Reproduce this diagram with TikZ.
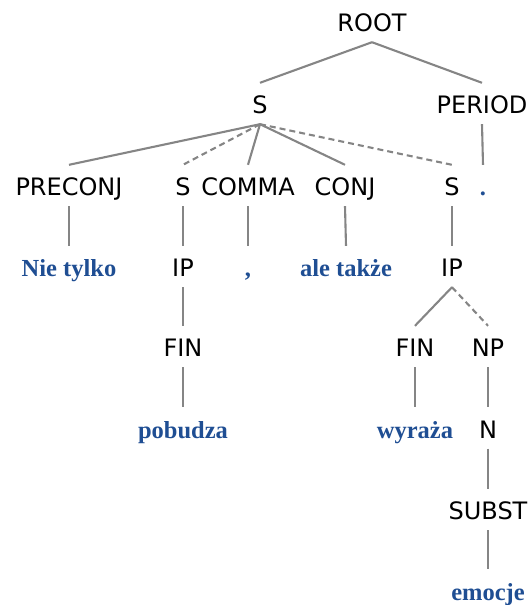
\documentclass[tikz,border=0pt]{standalone}
\usepackage{fontspec}
\setmainfont{DejaVu Sans}
\newfontfamily\wordfont{Liberation Serif}
\definecolor{wordblue}{HTML}{1F4E93}
\definecolor{edgegray}{HTML}{858585}
\begin{document}
\begin{tikzpicture}[x=1pt,y=-1pt,
  lab/.style={anchor=base, inner xsep=0pt, inner ysep=0pt, text height=30.5pt, text depth=10.5pt, font=\fontsize{24}{28}\selectfont},
  word/.style={lab, text=wordblue, font=\fontsize{24.5}{28}\selectfont\wordfont\bfseries},
  edge/.style={draw=edgegray, line width=2.1pt},
  dedge/.style={edge, dash pattern=on 6pt off 4pt}]
\useasboundingbox (0,0) rectangle (531,605);
% row 1
\node[lab] (root) at (372,31.5) {ROOT};
% row 2
\node[lab] (s1) at (260,113.5) {S};
\node[lab] (period) at (482,113.5) {PERIOD};
% row 3
\node[lab] (preconj) at (69,195.5) {PRECONJ};
\node[lab] (s2) at (183,195.5) {S};
\node[lab] (comma) at (248,195.5) {COMMA};
\node[lab] (conj) at (345,195.5) {CONJ};
\node[lab] (s3) at (452,195.5) {S};
\node[word] (dot) at (483,195.5) {.};
% row 4
\node[word] (nie) at (69,276.5) {Nie tylko};
\node[lab] (ip1) at (183,276.5) {IP};
\node[word] (cm) at (248,276.5) {,};
\node[word] (ale) at (346,276.5) {ale także};
\node[lab] (ip2) at (452,276.5) {IP};
% row 5
\node[lab] (fin1) at (183,356.5) {FIN};
\node[lab] (fin2) at (415,356.5) {FIN};
\node[lab] (np) at (488,356.5) {NP};
% row 6
\node[word] (pob) at (183,438) {pobudza};
\node[word] (wyr) at (415,438) {wyraża};
\node[lab] (n) at (488,438) {N};
% row 7
\node[lab] (subst) at (488,519.5) {SUBST};
% row 8
\node[word] (emo) at (488,600) {emocje};
% edges
\draw[edge] (root.south) -- (s1.north);
\draw[edge] (root.south) -- (period.north);
\draw[edge] (s1.south) -- (preconj.north);
\draw[dedge] (s1.south) -- (s2.north);
\draw[edge] (s1.south) -- (comma.north);
\draw[edge] (s1.south) -- (conj.north);
\draw[dedge] (s1.south) -- (s3.north);
\draw[edge] (period.south) -- (dot.north);
\draw[edge] (preconj.south) -- (nie.north);
\draw[edge] (s2.south) -- (ip1.north);
\draw[edge] (comma.south) -- (cm.north);
\draw[edge] (conj.south) -- (ale.north);
\draw[edge] (s3.south) -- (ip2.north);
\draw[edge] (ip1.south) -- (fin1.north);
\draw[edge] (ip2.south) -- (fin2.north);
\draw[dedge] (ip2.south) -- (np.north);
\draw[edge] (fin1.south) -- (pob.north);
\draw[edge] (fin2.south) -- (wyr.north);
\draw[edge] (np.south) -- (n.north);
\draw[edge] (n.south) -- (subst.north);
\draw[edge] (subst.south) -- (emo.north);
\end{tikzpicture}
\end{document}
